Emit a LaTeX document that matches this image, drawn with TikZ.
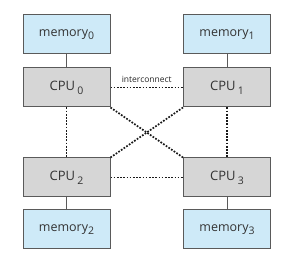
\documentclass[tikz,border=0pt]{standalone}
\usepackage{fontspec}
\setmainfont{Open Sans}
\newcommand{\lowidx}[1]{\raisebox{-0.55ex}{\fontsize{10.5}{10}\selectfont #1}}
\definecolor{memfill}{RGB}{206,234,248}
\definecolor{cpufill}{RGB}{214,214,214}
\definecolor{boxline}{RGB}{90,90,90}
\begin{document}
\begin{tikzpicture}[x=1pt,y=-1pt,
  membox/.style={draw=boxline,line width=1pt,fill=memfill,minimum width=87pt,minimum height=39pt,inner sep=0pt,font=\fontsize{12.5}{14}\selectfont,text=black!80},
  cpubox/.style={draw=boxline,line width=1pt,fill=cpufill,minimum width=87pt,minimum height=39pt,inner sep=0pt,font=\fontsize{13}{14}\selectfont,text=black!80},
  link/.style={draw=boxline,line width=1pt},
  bus/.style={draw=black!90,line width=1.7pt,dash pattern=on 1.7pt off 1.5pt}]
\useasboundingbox (0,0) rectangle (290,267);
\fill[white] (0,0) rectangle (290,267);
\node[membox] (m0) at (66.5,34.5) {memory\lowidx{0}};
\node[membox] (m1) at (227,34.5) {memory\lowidx{1}};
\node[cpubox] (c0) at (66.5,87.5) {CPU\,\lowidx{0}};
\node[cpubox] (c1) at (227,87.5) {CPU\,\lowidx{1}};
\node[cpubox] (c2) at (66.5,177.5) {CPU\,\lowidx{2}};
\node[cpubox] (c3) at (227,177.5) {CPU\,\lowidx{3}};
\node[membox] (m2) at (66.5,229.5) {memory\lowidx{2}};
\node[membox] (m3) at (227,229.5) {memory\lowidx{3}};
\draw[link] (m0) -- (c0);
\draw[link] (m1) -- (c1);
\draw[link] (c2) -- (m2);
\draw[link] (c3) -- (m3);
\draw[bus] (c0) -- node[above=1pt,font=\fontsize{8.5}{10}\selectfont,text=black!85] (ic) {interconnect} (c1);
\draw[bus] (c2) -- (c3);
\draw[bus] (c0) -- (c2);
\draw[bus] (c1) -- (c3);
\draw[bus] (c0.south east) -- (c3.north west);
\draw[bus] (c1.south west) -- (c2.north east);
\end{tikzpicture}
\end{document}
